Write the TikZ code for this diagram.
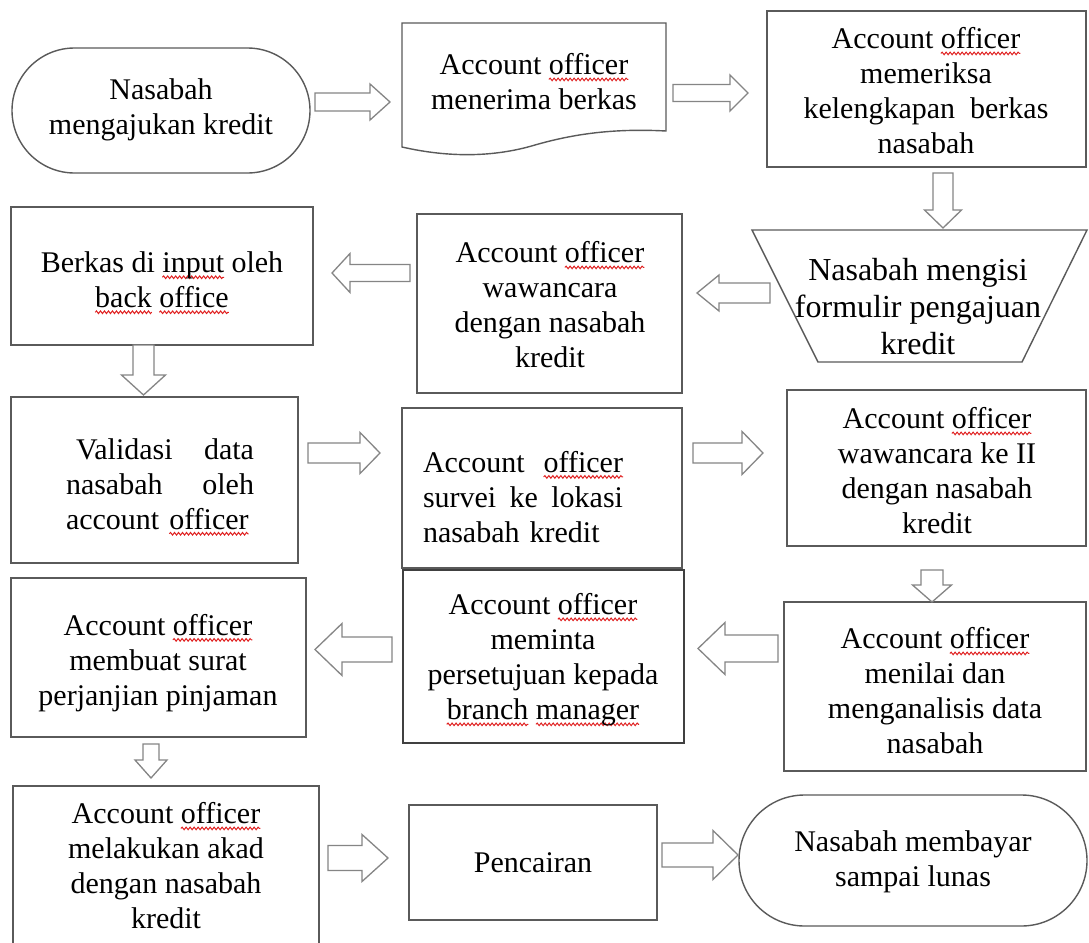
\documentclass[tikz,border=0pt]{standalone}
\usepackage{fontspec}
\setmainfont{Liberation Serif}
\usetikzlibrary{shapes.misc,decorations.pathmorphing}
\definecolor{ln}{HTML}{5A5A5A}
\definecolor{ar}{HTML}{858585}
\definecolor{sqred}{HTML}{E02020}
\newsavebox\sqbox
\newcommand\sq[1]{\sbox\sqbox{#1}\rlap{\tikz[baseline=0pt,x=1pt,y=1pt]{\path (0,0); \draw[overlay, sqred, line width=1pt, decorate, decoration={snake, segment length=4pt, amplitude=1.3pt}] (0,-4.5) -- (\the\wd\sqbox,-4.5);}}\usebox\sqbox}
\newcommand\arR[6]{\draw[blk] (#1,#3-#4) -- (#2-#6,#3-#4) -- (#2-#6,#3-#5) -- (#2,#3) -- (#2-#6,#3+#5) -- (#2-#6,#3+#4) -- (#1,#3+#4) -- cycle;}
\newcommand\arL[6]{\draw[blk] (#2,#3-#4) -- (#1+#6,#3-#4) -- (#1+#6,#3-#5) -- (#1,#3) -- (#1+#6,#3+#5) -- (#1+#6,#3+#4) -- (#2,#3+#4) -- cycle;}
\newcommand\arD[6]{\draw[blk] (#1-#4,#2) -- (#1-#4,#3-#6) -- (#1-#5,#3-#6) -- (#1,#3) -- (#1+#5,#3-#6) -- (#1+#4,#3-#6) -- (#1+#4,#2) -- cycle;}
\begin{document}
\begin{tikzpicture}[x=1pt,y=-1pt,
  frame/.style={draw=ln, line width=1.4pt, fill=white, inner sep=0pt, rectangle},
  term/.style={frame, rounded rectangle},
  txt/.style={font=\fontsize{30}{35}\selectfont, align=center, text=black, inner sep=0pt},
  blk/.style={draw=ar, line width=1.3pt, fill=white, line join=miter}]
\useasboundingbox (0,0) rectangle (1089,942);
\clip (0,0) rectangle (1089,942);
\fill[white] (0,0) rectangle (1089,942);

% frames
\node[term, minimum width=298pt, minimum height=125pt] (b1) at (161,110.5) {};
\draw[ln, line width=1.4pt, fill=white] (402,23) -- (666,23) -- (666,131)
  .. controls (610,128) and (570,135) .. (535,145)
  .. controls (495,157) and (450,158) .. (402,147) -- cycle;
\coordinate (b2) at (534,80);
\node[frame, minimum width=319pt, minimum height=156pt] (b3) at (926.5,89) {};
\draw[ln, line width=1.4pt, fill=white] (752,230) -- (1087,230) -- (1022,362) -- (818,362) -- cycle;
\coordinate (b4) at (919,296);
\node[frame, minimum width=265pt, minimum height=179pt] (b5) at (549.5,303.5) {};
\node[frame, minimum width=302pt, minimum height=138pt] (b6) at (162,276) {};
\node[frame, minimum width=287pt, minimum height=166pt] (b7) at (154.5,480) {};
\node[frame, minimum width=280pt, minimum height=160pt] (b8) at (542,488) {};
\node[frame, minimum width=299pt, minimum height=156pt] (b9) at (936.5,468) {};
\node[frame, minimum width=302pt, minimum height=169pt] (b10) at (935,686.5) {};
\node[frame, minimum width=281pt, minimum height=173pt, line width=2.4pt, draw=black!75] (b11) at (543.5,656.5) {};
\node[frame, minimum width=295pt, minimum height=159pt] (b12) at (158.5,657.5) {};
\node[frame, minimum width=306pt, minimum height=184pt] (b13) at (166,878) {};
\node[frame, minimum width=248pt, minimum height=115pt] (b14) at (533,862.5) {};
\node[term, minimum width=348pt, minimum height=131pt] (b15) at (913,860.5) {};

% texts
\node[txt] (t1) at (161,110) {Nasabah\\mengajukan kredit};
\node[txt] (t2) at (534,82) {Account \sq{officer}\\menerima berkas};
\node[txt] (t3) at (926,91) {Account \sq{officer}\\memeriksa\\kelengkapan\ \ berkas\\nasabah};
\node[txt, font=\fontsize{32}{37}\selectfont] (t4) at (918,307) {Nasabah mengisi\\formulir pengajuan\\kredit};
\node[txt] (t5) at (550,305) {Account \sq{officer}\\wawancara\\dengan nasabah\\kredit};
\node[txt] (t6) at (162,280) {Berkas di \sq{input} oleh\\\sq{back} \sq{office}};
\node[txt, text width=188pt, align=left] (t7) at (160,484) {\hspace*{10pt}Validasi\hfill data\\nasabah\hfill oleh\\account \sq{officer}};
\node[txt, text width=200pt, align=left] (t8) at (523,497) {Account\hfill\sq{officer}\\survei\hfill ke\hfill lokasi\\nasabah kredit};
\node[txt] (t9) at (937,471) {Account \sq{officer}\\wawancara ke II\\dengan nasabah\\kredit};
\node[txt] (t10) at (935,691) {Account \sq{officer}\\menilai dan\\menganalisis data\\nasabah};
\node[txt] (t11) at (543,660) {Account \sq{officer}\\meminta\\persetujuan kepada\\\sq{branch} \sq{manager}};
\node[txt] (t12) at (158,663) {Account \sq{officer}\\membuat surat\\perjanjian pinjaman};
\node[txt] (t13) at (166,866) {Account \sq{officer}\\melakukan akad\\dengan nasabah\\kredit};
\node[txt] (t14) at (533,863) {Pencairan};
\node[txt] (t15) at (913,862) {Nasabah membayar\\sampai lunas};

% block arrows
\arR{315}{390}{102}{9}{18}{20}
\arR{673}{748}{93}{8.5}{18}{18}
\arD{943}{173}{228}{10}{18.5}{18}
\arL{697}{770}{293}{10}{18}{22}
\arL{332}{410}{273}{8.5}{19.5}{18}
\arD{143.5}{345}{395}{10.5}{22}{20}
\arR{308}{380}{453}{10}{20.5}{20}
\arR{693}{763}{453}{10}{21.5}{21}
\arD{932}{570}{602}{11}{19.5}{17}
\arL{698}{778}{648.5}{13.5}{26}{27}
\arL{315}{392}{649.5}{12.5}{26}{27}
\arD{151}{744}{778}{8}{16}{18}
\arR{328}{388}{858}{12.5}{23.5}{26}
\arR{662}{738}{855}{12}{24.5}{25}
\end{tikzpicture}
\end{document}
